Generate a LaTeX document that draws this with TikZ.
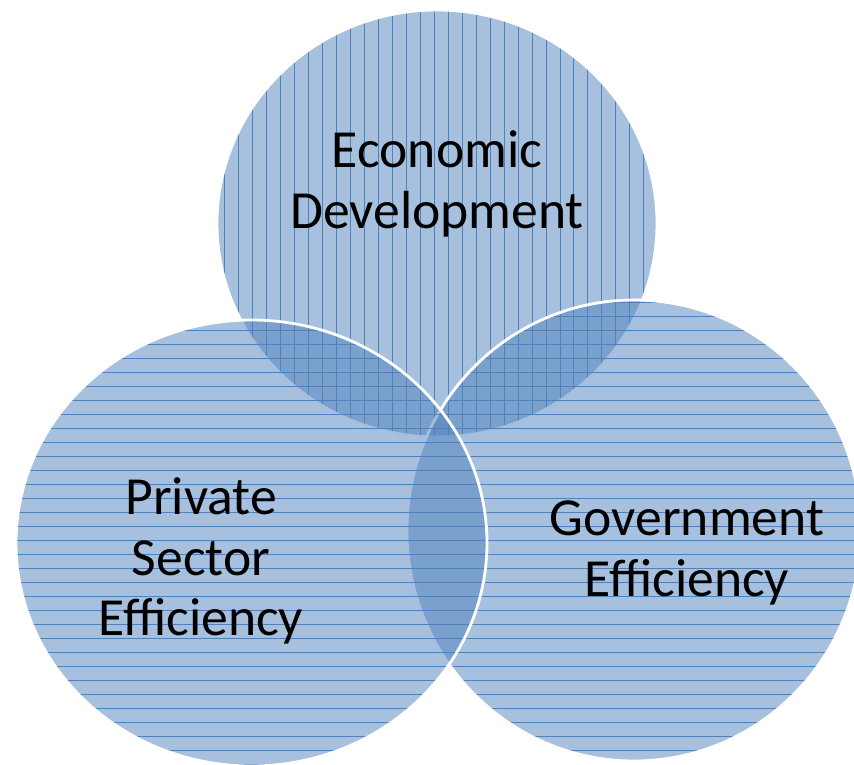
\documentclass[tikz,border=0pt]{standalone}
\usepackage{fontspec}
\setmainfont{Carlito}
\usepackage{xcolor}
\usepackage{tikz}
\usetikzlibrary{patterns.meta}

\definecolor{accent}{RGB}{79,129,189}

\begin{document}
\begin{tikzpicture}[
    x=0.02cm, y=-0.02cm,
    set/.style={fill=accent, fill opacity=0.5},
    vlines/.style={pattern={Lines[angle=90, distance=0.28cm, line width=0.45pt]}, pattern color=accent, fill opacity=0.45},
    hlines/.style={pattern={Lines[angle=0, distance=0.28cm, line width=0.45pt]}, pattern color=accent, fill opacity=0.45},
    rim/.style={draw=white, line width=1.6pt},
    label/.style={font=\fontsize{30.5}{34.5}\selectfont, align=center, text=black}
]
    \useasboundingbox (0,0) rectangle (854,764);

    % Circles
    \fill[set] (437,223.5) ellipse [x radius=220, y radius=213.5];
    \fill[vlines] (437,223.5) ellipse [x radius=220, y radius=213.5];
    \draw[rim] (437,223.5) ellipse [x radius=220, y radius=213.5];

    \fill[set] (634,530.5) ellipse [x radius=227, y radius=230.5];
    \fill[hlines] (634,530.5) ellipse [x radius=227, y radius=230.5];
    \draw[rim] (634,530.5) ellipse [x radius=227, y radius=230.5];

    \fill[set] (251.5,543) ellipse [x radius=235.5, y radius=223];
    \fill[hlines] (251.5,543) ellipse [x radius=235.5, y radius=223];
    \draw[rim] (251.5,543) ellipse [x radius=235.5, y radius=223];

    % Labels
    \node[label] (econ) at (437,184) {Economic\\Development};
    \node[label] (priv) at (201,561) {Private\\Sector\\Efficiency};
    \node[label] (gov) at (687,553) {Government\\Efficiency};
\end{tikzpicture}
\end{document}
